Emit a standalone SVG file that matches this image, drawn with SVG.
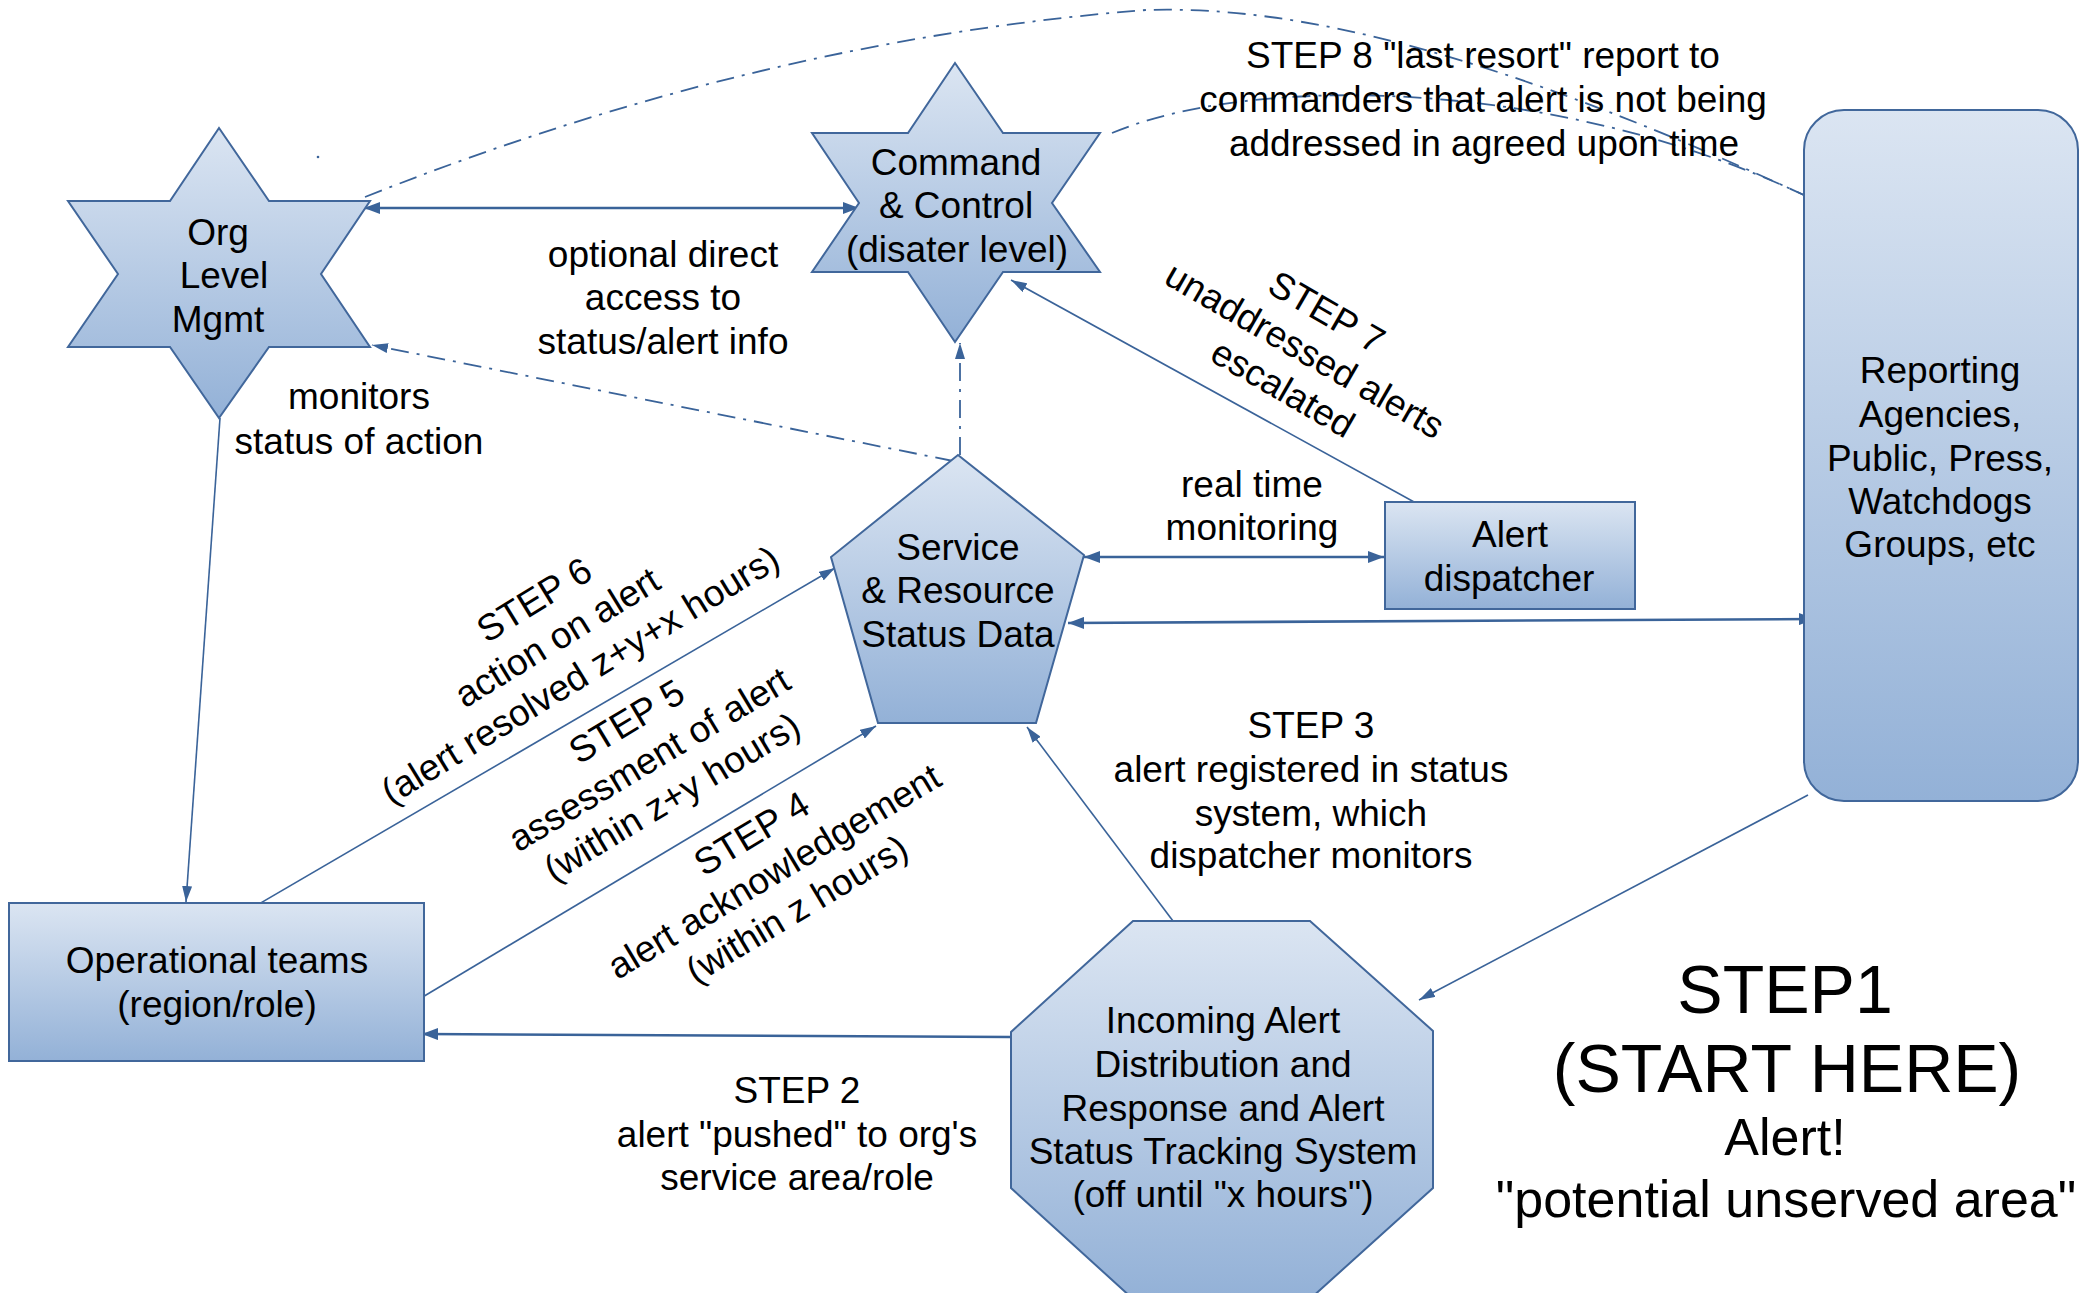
<svg xmlns="http://www.w3.org/2000/svg" width="2098" height="1293" viewBox="0 0 2098 1293">
<defs>
<linearGradient id="g" x1="0" y1="0" x2="0" y2="1">
<stop offset="0" stop-color="#dbe5f2"/>
<stop offset="1" stop-color="#93b1d7"/>
</linearGradient>
<marker id="ah" markerUnits="userSpaceOnUse" viewBox="0 0 16 12" refX="16" refY="6" markerWidth="16" markerHeight="12" orient="auto-start-reverse">
<path d="M0,0 L16,6 L0,12 Z" fill="#3a6399"/>
</marker>
<marker id="ahs" markerUnits="userSpaceOnUse" viewBox="0 0 16 10" refX="16" refY="5" markerWidth="16" markerHeight="10" orient="auto-start-reverse">
<path d="M0,0 L16,5 L0,10 Z" fill="#3a6399"/>
</marker>
</defs>
<style>
.n{fill:url(#g);stroke:#41679b;stroke-width:2;stroke-linejoin:miter}
text{font-family:"Liberation Sans",Arial,sans-serif;font-size:37px;fill:#000;text-anchor:middle}
.c{fill:none;stroke:#3a6399;stroke-width:1.6}
.t{fill:none;stroke:#3a6399;stroke-width:2.6}
.d{fill:none;stroke:#3a6399;stroke-width:1.8;stroke-dasharray:18 8 3 8}
</style>
<rect width="2098" height="1293" fill="#fff"/>

<g id="connectors">
<path class="t" d="M364,208 L859,208" marker-start="url(#ah)" marker-end="url(#ah)"/>
<path class="d" d="M953,461 L372,345" marker-end="url(#ahs)"/>
<path class="d" d="M960,455 L960,343" marker-end="url(#ahs)"/>
<path class="d" d="M365,197 Q760,40 1146,10 C1300,5 1500,55 1806,196"/>
<path class="d" d="M1112,133 C1250,75 1550,75 1806,196"/>
<path class="c" d="M1425,508 L1011,280" marker-end="url(#ahs)"/>
<path class="t" d="M1084,557 L1384,557" marker-start="url(#ah)" marker-end="url(#ah)"/>
<path class="t" d="M1068,623 L1815,619" marker-start="url(#ah)" marker-end="url(#ah)"/>
<path class="c" d="M1808,795 L1419,1000" marker-end="url(#ahs)"/>
<path class="c" d="M1173,921 L1027,727" marker-end="url(#ahs)"/>
<path class="t" d="M1011,1037 L422,1034" marker-end="url(#ah)"/>
<path class="c" d="M421,998 L876,726" marker-end="url(#ahs)"/>
<path class="c" d="M247,911 L835,568" marker-end="url(#ahs)"/>
<path class="c" d="M220,418 L186,902" marker-end="url(#ahs)"/>
<circle cx="318" cy="157" r="1.3" fill="#3a6399"/>
</g>

<g id="org">
<polygon class="n" points="219,128 269,201 370,201 321,274 370,347 269,347 219,418 170,347 68,347 118,274 68,201 170,201"/>
<text x="218" y="245">Org</text>
<text x="224" y="288">Level</text>
<text x="218" y="332">Mgmt</text>
</g>

<g id="command">
<polygon class="n" points="955,63 1003,133 1100,133 1052,203 1100,272 1003,272 955,342 908,272 812,272 859,203 812,133 908,133"/>
<text x="956" y="175">Command</text>
<text x="956" y="218">&amp; Control</text>
<text x="957" y="262">(disater level)</text>
</g>

<g id="service">
<polygon class="n" points="958,455 1084,555 1036,723 878,723 831,557"/>
<text x="958" y="560">Service</text>
<text x="958" y="603">&amp; Resource</text>
<text x="958" y="647">Status Data</text>
</g>

<g id="dispatcher">
<rect class="n" x="1385" y="502" width="250" height="107"/>
<text x="1510" y="547">Alert</text>
<text x="1509" y="591">dispatcher</text>
</g>

<g id="reporting">
<rect class="n" x="1804" y="110" width="274" height="691" rx="40" ry="40"/>
<text x="1940" y="383">Reporting</text>
<text x="1940" y="427">Agencies,</text>
<text x="1940" y="471">Public, Press,</text>
<text x="1940" y="514">Watchdogs</text>
<text x="1940" y="557">Groups, etc</text>
</g>

<g id="operational">
<rect class="n" x="9" y="903" width="415" height="158"/>
<text x="217" y="973">Operational teams</text>
<text x="217" y="1017">(region/role)</text>
</g>

<g id="incoming">
<polygon class="n" points="1133,921 1310,921 1433,1031 1433,1188 1310,1299 1133,1299 1011,1188 1011,1032"/>
<text x="1223" y="1033">Incoming Alert</text>
<text x="1223" y="1077">Distribution and</text>
<text x="1223" y="1121">Response and Alert</text>
<text x="1223" y="1164">Status Tracking System</text>
<text x="1223" y="1207">(off until "x hours")</text>
</g>

<g id="labels">
<text x="1483" y="68">STEP 8 "last resort" report to</text>
<text x="1483" y="112">commanders that alert is not being</text>
<text x="1484" y="156">addressed in agreed upon time</text>

<text x="663" y="267">optional direct</text>
<text x="663" y="310">access to</text>
<text x="663" y="354">status/alert info</text>

<text x="359" y="409">monitors</text>
<text x="359" y="454">status of action</text>

<text x="1252" y="497">real time</text>
<text x="1252" y="540">monitoring</text>

<text x="1311" y="738">STEP 3</text>
<text x="1311" y="782">alert registered in status</text>
<text x="1311" y="826">system, which</text>
<text x="1311" y="868">dispatcher monitors</text>

<text x="797" y="1103">STEP 2</text>
<text x="797" y="1147">alert "pushed" to org's</text>
<text x="797" y="1190">service area/role</text>

<g transform="translate(1305,350) rotate(30)">
<text y="-31">STEP 7</text>
<text y="13">unaddressed alerts</text>
<text y="57">escalated</text>
</g>
<g transform="translate(557,637) rotate(-31.5)">
<text y="-31">STEP 6</text>
<text y="13">action on alert</text>
<text y="57">(alert resolved z+y+x hours)</text>
</g>
<g transform="translate(649,759) rotate(-31)">
<text y="-31">STEP 5</text>
<text y="13">assessment of alert</text>
<text y="57">(within z+y hours)</text>
</g>
<g transform="translate(774,871) rotate(-31)">
<text y="-31">STEP 4</text>
<text y="13">alert acknowledgement</text>
<text y="57">(within z hours)</text>
</g>

<text x="1785" y="1013" style="font-size:68px">STEP1</text>
<text x="1787" y="1092" style="font-size:68px">(START HERE)</text>
<text x="1785" y="1155" style="font-size:52px">Alert!</text>
<text x="1786" y="1217" style="font-size:52px">"potential unserved area"</text>
</g>
</svg>
